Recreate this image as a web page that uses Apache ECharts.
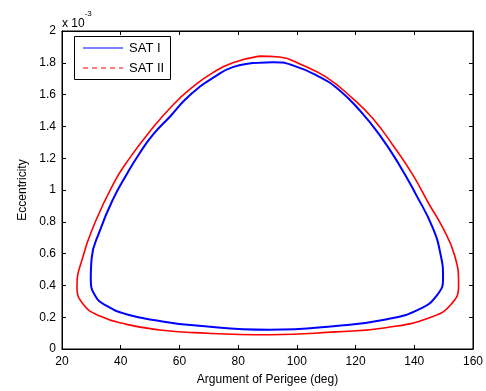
<!DOCTYPE html>
<html>
<head>
<meta charset="utf-8">
<script src="https://cdn.jsdelivr.net/npm/echarts@6/dist/echarts.min.js"></script>
<style>
html,body{margin:0;padding:0;background:#fff;}
#chart{width:486px;height:391px;}
</style>
</head>
<body>
<div id="chart"></div>
<script>
// Eccentricity values in units of 1e-3
var satIArg = [87.3, 91.8, 98.6, 107.7, 114.5, 121.3, 128.1, 134.8, 140.5, 146.2, 149.0, 149.8, 147.9, 141.6, 130.3, 113.3, 90.7, 64.7, 53.3, 42.2, 35.4, 31.4, 29.8, 30.1, 32.9, 37.4, 42.0, 46.5, 51.0, 57.3, 61.8, 66.9, 71.4, 78.2, 87.3];
var satIEcc = [1.800, 1.804, 1.784, 1.711, 1.628, 1.503, 1.348, 1.161, 0.974, 0.766, 0.591, 0.446, 0.342, 0.249, 0.186, 0.145, 0.121, 0.149, 0.176, 0.217, 0.270, 0.332, 0.446, 0.571, 0.745, 0.943, 1.098, 1.233, 1.348, 1.472, 1.566, 1.649, 1.705, 1.773, 1.800];
var satIIArg = [87.3, 94.1, 102.0, 109.9, 119.0, 125.8, 132.6, 139.4, 145.0, 149.6, 153.7, 155.1, 152.5, 145.2, 130.3, 113.3, 90.7, 64.7, 53.3, 42.0, 32.9, 27.3, 25.1, 27.3, 30.6, 37.4, 43.1, 49.9, 57.8, 64.6, 71.4, 78.2, 87.3];
var satIIEcc = [1.842, 1.836, 1.784, 1.711, 1.576, 1.451, 1.285, 1.098, 0.912, 0.766, 0.591, 0.404, 0.280, 0.197, 0.134, 0.108, 0.090, 0.103, 0.120, 0.155, 0.207, 0.280, 0.394, 0.591, 0.766, 1.036, 1.202, 1.368, 1.535, 1.649, 1.738, 1.800, 1.842];
var seriesNames = ['SAT I', 'SAT II'];
var xTitle = 'Argument of Perigee (deg)';
var yTitle = 'Eccentricity';

function pairs(a, b) { return a.map(function (v, i) { return [v, b[i]]; }); }

var font = 'Liberation Sans, Arial, sans-serif';
var chart = echarts.init(document.getElementById('chart'), null, {renderer: 'canvas'});
var baseAxis = {
  axisLine: {show: true, onZero: false, lineStyle: {color: '#000', width: 1}},
  axisTick: {show: true, inside: true, length: 4, lineStyle: {color: '#000'}},
  splitLine: {show: false}
};
chart.setOption({
  animation: false,
  backgroundColor: '#fff',
  grid: {left: 62, right: 12, top: 31, bottom: 39, show: true, borderColor: '#000', borderWidth: 1, backgroundColor: '#fff'},
  xAxis: [
    Object.assign({}, baseAxis, {
      type: 'value', min: 20, max: 160, interval: 20, position: 'bottom',
      axisLabel: {color: '#000', fontSize: 12, fontFamily: font, margin: 7},
      name: xTitle, nameLocation: 'middle', nameGap: 25,
      nameTextStyle: {color: '#000', fontSize: 12, fontFamily: font}
    }),
    Object.assign({}, baseAxis, {
      type: 'value', min: 20, max: 160, interval: 20, position: 'top',
      axisLabel: {show: false}
    })
  ],
  yAxis: [
    Object.assign({}, baseAxis, {
      type: 'value', min: 0, max: 2, interval: 0.2, position: 'left',
      axisLabel: {color: '#000', fontSize: 12, fontFamily: font, margin: 6,
        formatter: function (v) { return +v.toFixed(1) + ''; }},
      name: yTitle, nameLocation: 'middle', nameGap: 26,
      nameTextStyle: {color: '#000', fontSize: 12, fontFamily: font}
    }),
    Object.assign({}, baseAxis, {
      type: 'value', min: 0, max: 2, interval: 0.2, position: 'right',
      axisLabel: {show: false}
    })
  ],
  graphic: [{
    type: 'text', left: 62, top: 10,
    style: {
      text: '{a|x 10}{b|-3}', fontFamily: font,
      rich: {
        a: {fontSize: 12, fill: '#000', fontFamily: font, verticalAlign: 'bottom', padding: [8, 0, 0, 0]},
        b: {fontSize: 8, fill: '#000', fontFamily: font, verticalAlign: 'top'}
      }
    }
  }, {
    type: 'group', z: 100,
    children: [
      {type: 'rect', z: 100, shape: {x: 74.5, y: 36.5, width: 96, height: 43},
        style: {fill: '#fff', stroke: '#000', lineWidth: 1}},
      {type: 'line', z: 101, shape: {x1: 83, y1: 48, x2: 123, y2: 48},
        style: {stroke: '#0000ff', lineWidth: 1.2}},
      {type: 'line', z: 101, shape: {x1: 83, y1: 68, x2: 123, y2: 68},
        style: {stroke: '#ff0000', lineWidth: 1.2, lineDash: [5, 4]}},
      {type: 'text', z: 101, x: 129, y: 48,
        style: {text: seriesNames[0], fill: '#000', fontSize: 13, fontFamily: font, verticalAlign: 'middle'}},
      {type: 'text', z: 101, x: 129, y: 68,
        style: {text: seriesNames[1], fill: '#000', fontSize: 13, fontFamily: font, verticalAlign: 'middle'}}
    ]
  }],
  series: [
    {name: seriesNames[0], type: 'line', data: pairs(satIArg, satIEcc), smooth: 0.5, symbol: 'none',
      lineStyle: {color: '#0000ff', width: 2}, itemStyle: {color: '#0000ff'}},
    {name: seriesNames[1], type: 'line', data: pairs(satIIArg, satIIEcc), smooth: 0.5, symbol: 'none',
      lineStyle: {color: '#ff0000', width: 1.6}, itemStyle: {color: '#ff0000'}}
  ]
});
</script>
</body>
</html>
